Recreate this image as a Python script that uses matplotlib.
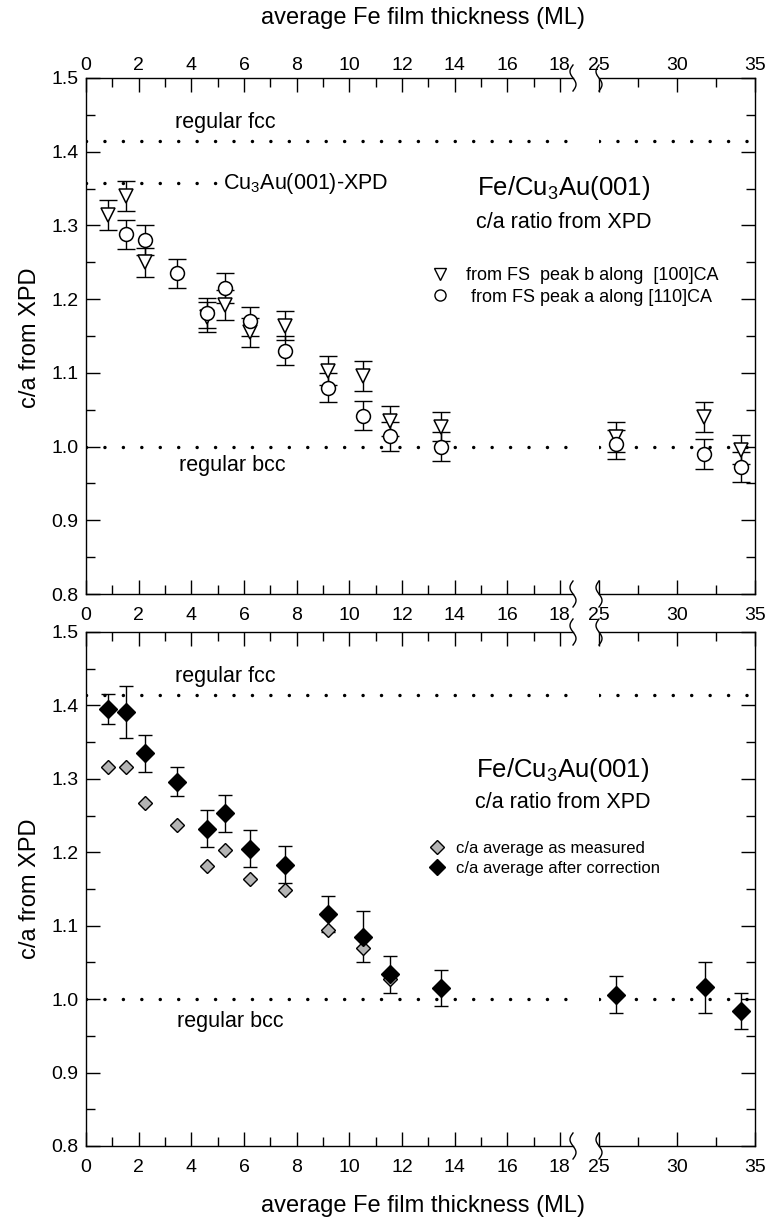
import numpy as np
import matplotlib.pyplot as plt
from matplotlib.ticker import MultipleLocator, FixedLocator
from matplotlib.lines import Line2D
from matplotlib.transforms import ScaledTranslation

plt.rcParams['font.family'] = ['Liberation Sans', 'DejaVu Sans']
plt.rcParams['axes.linewidth'] = 1.0

# ---------------- data ----------------
# top panel: c/a from XPD forward scattering peaks
x_tri = [0.85, 1.52, 2.24, 4.6, 5.28, 6.23, 7.56, 9.19, 10.52, 11.55, 13.5, 26.1, 31.7, 34.1]
y_tri = [1.314, 1.340, 1.250, 1.176, 1.192, 1.155, 1.164, 1.103, 1.096, 1.035, 1.027, 1.013, 1.040, 0.996]
e_tri = [0.02] * len(x_tri)

x_circ = [1.52, 2.24, 3.46, 4.6, 5.28, 6.23, 7.56, 9.19, 10.52, 11.55, 13.5, 26.1, 31.7, 34.1]
y_circ = [1.288, 1.280, 1.235, 1.181, 1.215, 1.170, 1.130, 1.080, 1.042, 1.014, 1.000, 1.003, 0.990, 0.972]
e_circ = [0.02] * len(x_circ)

# bottom panel: averages
x_meas = [0.85, 1.52, 2.24, 3.46, 4.6, 5.28, 6.23, 7.56, 9.19, 10.52, 11.55]
y_meas = [1.316, 1.316, 1.267, 1.237, 1.181, 1.203, 1.164, 1.149, 1.094, 1.070, 1.028]

x_corr = [0.85, 1.52, 2.24, 3.46, 4.6, 5.28, 6.23, 7.56, 9.19, 10.52, 11.55, 13.5, 26.1, 31.8, 34.1]
y_corr = [1.395, 1.391, 1.335, 1.296, 1.232, 1.253, 1.205, 1.183, 1.116, 1.085, 1.034, 1.015, 1.006, 1.016, 0.984]
e_corr = [0.02, 0.035, 0.025, 0.02, 0.025, 0.025, 0.025, 0.025, 0.025, 0.035, 0.025, 0.025, 0.025, 0.035, 0.025]

ca_fcc = 1.414
ca_bcc = 1.0
ca_sub = 1.357
sub_line_end = 4.95

W, H = 770, 1222
fig = plt.figure(figsize=(W / 100, H / 100), dpi=100)

dots = dict(color='black', lw=2.5, ls=(0, (0.01, 5.3)), dash_capstyle='round')


def px(x, y):
    # figure pixel -> figure fraction
    return x / W, 1 - y / H


def make_panel(top_px, bot_px, labeltop):
    b = 1 - bot_px / H
    h = (bot_px - top_px) / H
    axl = fig.add_axes([86 / W, b, 487 / W, h])
    axr = fig.add_axes([599 / W, b, 156 / W, h])
    for ax in (axl, axr):
        ax.patch.set_visible(False)
        ax.set_ylim(0.8, 1.5)
        ax.yaxis.set_major_locator(MultipleLocator(0.1))
        ax.yaxis.set_minor_locator(MultipleLocator(0.05))
        ax.tick_params(which='both', direction='in', top=True, bottom=True,
                       labeltop=labeltop, labelsize=14, width=1.0)
        ax.tick_params(axis='x', which='both', pad=9)
        ax.tick_params(axis='y', which='both', pad=5.5)
        ax.tick_params(which='major', length=10)
        ax.tick_params(which='minor', length=6.5)
    axl.set_xlim(0, 18.5)
    axl.xaxis.set_major_locator(MultipleLocator(2))
    axl.xaxis.set_minor_locator(MultipleLocator(1))
    axl.spines['right'].set_visible(False)
    axl.tick_params(axis='y', which='both', right=False)
    axl.yaxis.set_major_formatter(plt.FuncFormatter(lambda v, p: '%.1f' % v))
    axr.set_xlim(25, 35)
    axr.xaxis.set_major_locator(FixedLocator([25, 30, 35]))
    axr.xaxis.set_minor_locator(FixedLocator([27.5, 32.5]))
    axr.spines['left'].set_visible(False)
    axr.tick_params(axis='y', which='both', left=False, right=True, labelleft=False)
    for ax in (axl, axr):
        ax.axhline(ca_fcc, **dots)
        ax.axhline(ca_bcc, **dots)
    # break marks
    t = np.linspace(0, 1, 40)
    for xb in (573, 599):
        for yb in (top_px, bot_px):
            xs = xb - 3.0 * np.sin(2 * np.pi * t)
            ys = yb - 13 + 26 * t
            fx, fy = px(xs, ys)
            fig.add_artist(Line2D(fx, fy, color='black', lw=1.0))
    return axl, axr


# ---------------- top panel ----------------
t_l, t_r = make_panel(78, 594, True)
t_l.plot([0, sub_line_end], [ca_sub, ca_sub], **dots)
for ax in (t_l, t_r):
    ax.errorbar(x_tri, y_tri, yerr=e_tri, fmt='none', ecolor='black',
                elinewidth=1.0, capsize=6.5, capthick=1.0, zorder=2)
    ax.errorbar(x_circ, y_circ, yerr=e_circ, fmt='none', ecolor='black',
                elinewidth=1.0, capsize=6.5, capthick=1.0, zorder=2)
    ax.plot(x_tri, y_tri, 'v', ms=10, mfc='white', mec='black', mew=1.1, zorder=3)
    ax.plot(x_circ, y_circ, 'o', ms=10, mfc='white', mec='black', mew=1.1, zorder=3)

t_l.text(5.3, 1.44, 'regular fcc', fontsize=15.5, ha='center', va='center')
t_l.text(5.55, 0.974, 'regular bcc', fontsize=15.5, ha='center', va='center')
t_l.text(5.2, ca_sub, r'Cu$_\mathregular{3}$Au(001)-XPD', fontsize=15.5,
         ha='left', va='center')
fig.text(*px(564, 188), r'Fe/Cu$_\mathregular{3}$Au(001)', fontsize=18.5,
         ha='center', va='center')
fig.text(*px(564, 222), 'c/a ratio from XPD', fontsize=15.5,
         ha='center', va='center')
h1 = [Line2D([], [], marker='v', ls='none', ms=8, mfc='white', mec='black', mew=1.0),
      Line2D([], [], marker='o', ls='none', ms=8, mfc='white', mec='black', mew=1.0)]
t_l.legend(h1, ['from FS  peak b along  [100]CA', ' from FS peak a along [110]CA'],
           loc='upper left', bbox_to_anchor=px(431, 267), bbox_transform=fig.transFigure,
           frameon=False, borderpad=0, borderaxespad=0, handlelength=1.0,
           handletextpad=0.95, labelspacing=0.25, prop={'size': 13})

# ---------------- bottom panel ----------------
b_l, b_r = make_panel(632, 1146, False)
for ax in (b_l, b_r):
    ax.errorbar(x_corr, y_corr, yerr=e_corr, fmt='none', ecolor='black',
                elinewidth=1.0, capsize=5, capthick=1.0, zorder=2)
    ax.plot(x_meas, y_meas, 'D', ms=7, mfc='#b4b4b4', mec='black', mew=1.0, zorder=3)
    ax.plot(x_corr, y_corr, 'D', ms=9, mfc='black', mec='black', zorder=4)

b_l.text(5.3, 1.44, 'regular fcc', fontsize=15.5, ha='center', va='center')
b_l.text(5.5, 0.969, 'regular bcc', fontsize=15.5, ha='center', va='center')
fig.text(*px(563, 770), r'Fe/Cu$_\mathregular{3}$Au(001)', fontsize=18.5,
         ha='center', va='center')
fig.text(*px(563, 803), 'c/a ratio from XPD', fontsize=15.5,
         ha='center', va='center')
h2 = [Line2D([], [], marker='D', ls='none', ms=7, mfc='#b4b4b4', mec='black', mew=1.0),
      Line2D([], [], marker='D', ls='none', ms=8, mfc='black', mec='black')]
b_l.legend(h2, ['c/a average as measured', 'c/a average after correction'],
           loc='upper left', bbox_to_anchor=px(429, 841), bbox_transform=fig.transFigure,
           frameon=False, borderpad=0, borderaxespad=0, handlelength=1.0,
           handletextpad=0.6, labelspacing=0.3, prop={'size': 12})

# axis labels
fig.text(*px(423, 18), 'average Fe film thickness (ML)', fontsize=17, ha='center', va='center')
fig.text(*px(423, 1206), 'average Fe film thickness (ML)', fontsize=17, ha='center', va='center')
fig.text(*px(30, 338), 'c/a from XPD', fontsize=17, rotation=90, ha='center', va='center')
fig.text(*px(30, 889), 'c/a from XPD', fontsize=17, rotation=90, ha='center', va='center')

# top tick labels of the upper panel sit closer to the frame
shift = ScaledTranslation(0, -9 / 100, fig.dpi_scale_trans)
for ax in (t_l, t_r):
    for tick in ax.xaxis.get_major_ticks():
        tick.label2.set_transform(tick.label2.get_transform() + shift)

fig.savefig('out.png', dpi=100)
